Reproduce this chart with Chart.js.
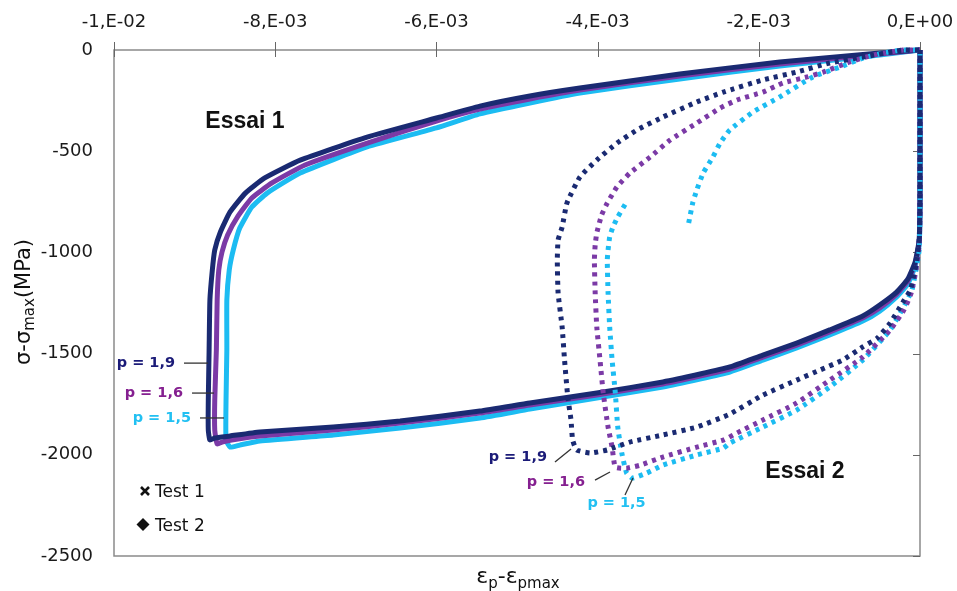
<!DOCTYPE html>
<html>
<head>
<meta charset="utf-8">
<script src="https://cdn.jsdelivr.net/npm/chart.js@4.4.1/dist/chart.umd.min.js"></script>
<style>
  html, body { margin: 0; padding: 0; background: #fff; }
  #wrap { width: 957px; height: 591px; }
</style>
</head>
<body>
<div id="wrap"><canvas id="chart" width="957" height="591"></canvas></div>
<script>
// Cyclic test: sigma - sigma_max vs eps_p - eps_pmax, two tests, three p values

// axis ticks
const xTickValues = [-0.01, -0.008, -0.006, -0.004, -0.002, 0];
const xTickLabels = ['-1,E-02', '-8,E-03', '-6,E-03', '-4,E-03', '-2,E-03', '0,E+00'];
const yTickValues = [0, -500, -1000, -1500, -2000, -2500];

// Essai 1 (Test 1, crosses) - full loop, p = 1,9
const e1_19_x = [0, 0, 0, 0, -0.00001, -0.00006, -0.00015, -0.00029, -0.00050, -0.00071, -0.00112, -0.00153, -0.00195, -0.00236, -0.00273, -0.00319, -0.00401, -0.00484, -0.00546, -0.00645, -0.00728, -0.00819, -0.00856, -0.00875, -0.00881, -0.00883, -0.00883, -0.00882, -0.00881, -0.00878, -0.00875, -0.00868, -0.00856, -0.00837, -0.00813, -0.00769, -0.00686, -0.00600, -0.00546, -0.00484, -0.00422, -0.00298, -0.00174, -0.00050, 0];
const e1_19_y = [0, -247, -494, -741, -939, -1047, -1131, -1196, -1260, -1314, -1383, -1448, -1507, -1566, -1601, -1640, -1695, -1744, -1784, -1833, -1863, -1887, -1907, -1917, -1927, -1878, -1729, -1482, -1235, -1087, -988, -899, -800, -707, -632, -544, -430, -336, -277, -227, -188, -119, -59, -15, 0];

// p = 1,6
const e1_16_x = [0, 0, 0, 0, -0.00001, -0.00006, -0.00015, -0.00029, -0.00050, -0.00071, -0.00112, -0.00153, -0.00195, -0.00236, -0.00273, -0.00319, -0.00401, -0.00484, -0.00546, -0.00645, -0.00728, -0.00819, -0.00854, -0.00866, -0.00872, -0.00875, -0.00875, -0.00873, -0.00872, -0.00870, -0.00866, -0.00859, -0.00846, -0.00829, -0.00804, -0.00763, -0.00682, -0.00600, -0.00546, -0.00484, -0.00422, -0.00298, -0.00174, -0.00050, 0];
const e1_16_y = [0, -247, -494, -741, -949, -1057, -1141, -1206, -1275, -1324, -1393, -1458, -1517, -1576, -1611, -1650, -1705, -1754, -1794, -1843, -1878, -1907, -1927, -1937, -1947, -1878, -1729, -1482, -1235, -1087, -998, -914, -820, -731, -657, -568, -455, -351, -292, -242, -198, -128, -69, -20, 0];

// p = 1,5
const e1_15_x = [0, 0, 0, 0, -0.00001, -0.00006, -0.00015, -0.00029, -0.00050, -0.00071, -0.00112, -0.00153, -0.00195, -0.00236, -0.00273, -0.00319, -0.00401, -0.00484, -0.00546, -0.00645, -0.00728, -0.00819, -0.00844, -0.00856, -0.00861, -0.00861, -0.00860, -0.00860, -0.00857, -0.00852, -0.00844, -0.00829, -0.00810, -0.00769, -0.00686, -0.00600, -0.00546, -0.00484, -0.00422, -0.00298, -0.00174, -0.00050, 0];
const e1_15_y = [0, -247, -494, -741, -963, -1067, -1156, -1220, -1290, -1339, -1408, -1472, -1532, -1591, -1626, -1665, -1719, -1774, -1818, -1868, -1902, -1932, -1952, -1962, -1927, -1729, -1482, -1235, -1087, -988, -880, -776, -707, -608, -479, -385, -316, -262, -213, -143, -79, -25, 0];

// Essai 2 (Test 2, diamonds), p = 1,9
const e2_19_x = [0, 0, 0, 0, -0.00001, -0.00005, -0.00012, -0.00021, -0.00037, -0.00053, -0.00071, -0.00096, -0.00124, -0.00153, -0.00195, -0.00236, -0.00277, -0.00319, -0.00360, -0.00388, -0.00409, -0.00426, -0.00431, -0.00433, -0.00437, -0.00441, -0.00444, -0.00449, -0.00450, -0.00449, -0.00444, -0.00438, -0.00422, -0.00401, -0.00376, -0.00351, -0.00319, -0.00277, -0.00244, -0.00195, -0.00153, -0.00112, -0.00071, -0.00021, 0];
const e2_19_y = [0, -247, -494, -741, -939, -1062, -1186, -1245, -1349, -1423, -1467, -1532, -1581, -1631, -1705, -1799, -1863, -1902, -1937, -1976, -1991, -1976, -1927, -1828, -1715, -1532, -1369, -1201, -1038, -939, -875, -756, -628, -544, -460, -395, -331, -257, -208, -148, -109, -64, -35, 0, 0];

// p = 1,6
const e2_16_x = [0, 0, 0, 0, -0.00001, -0.00005, -0.00011, -0.00020, -0.00037, -0.00071, -0.00112, -0.00153, -0.00195, -0.00227, -0.00244, -0.00277, -0.00319, -0.00347, -0.00364, -0.00378, -0.00382, -0.00387, -0.00393, -0.00397, -0.00401, -0.00403, -0.00404, -0.00403, -0.00401, -0.00395, -0.00388, -0.00376, -0.00360, -0.00335, -0.00310, -0.00277, -0.00248, -0.00227, -0.00195, -0.00170, -0.00140, -0.00120, -0.00087, -0.00058, -0.00021, 0];
const e2_16_y = [0, -247, -494, -741, -963, -1087, -1201, -1285, -1383, -1517, -1631, -1744, -1828, -1892, -1927, -1962, -2011, -2051, -2066, -2061, -1962, -1863, -1695, -1532, -1369, -1201, -1038, -963, -904, -815, -756, -677, -608, -529, -445, -361, -287, -247, -208, -163, -133, -109, -59, -25, 0, 0];

// p = 1,5 (starts inside the loop, ends at about -750)
const e2_15_x = [-0.00287, -0.00282, -0.00277, -0.00269, -0.00257, -0.00248, -0.00236, -0.00207, -0.00174, -0.00133, -0.00099, -0.00071, -0.00046, -0.00021, 0, 0, 0, 0, -0.00001, -0.00005, -0.00010, -0.00019, -0.00037, -0.00071, -0.00112, -0.00153, -0.00195, -0.00236, -0.00244, -0.00277, -0.00319, -0.00339, -0.00357, -0.00364, -0.00370, -0.00375, -0.00378, -0.00382, -0.00385, -0.00387, -0.00388, -0.00387, -0.00385, -0.00381, -0.00375, -0.00364];
const e2_15_y = [-855, -756, -692, -608, -529, -460, -395, -306, -232, -133, -84, -40, -15, 0, 0, -247, -494, -741, -988, -1087, -1186, -1260, -1383, -1532, -1665, -1779, -1863, -1942, -1967, -2001, -2051, -2090, -2115, -2090, -1991, -1863, -1695, -1532, -1369, -1201, -1038, -988, -924, -875, -825, -751];

// colours per p value
const NAVY = '#1a2a72';
const PURPLE = '#7b3aa6';
const CYAN = '#1cbcf2';

function pts(xs, ys) {
  return xs.map((x, i) => ({ x: x, y: ys[i] }));
}

function test1(data, color) {
  return { data: data, showLine: true, borderColor: color, borderWidth: 5, pointRadius: 0, clip: 8, tension: 0.15 };
}

function test2(data, color) {
  return { data: data, showLine: true, borderColor: color, borderWidth: 5, borderDash: [4, 5], pointRadius: 0, clip: 8, tension: 0.15 };
}

const FONT = 'DejaVu Sans';

// labels drawn on top of the plot (frame, titles, legend, annotations)
const decorPlugin = {
  id: 'decor',
  beforeDatasetsDraw(chart) {
    const ctx = chart.ctx;
    const a = chart.chartArea;
    const xs = chart.scales.x, ys = chart.scales.y;
    ctx.save();
    ctx.strokeStyle = '#8a8a8a';
    ctx.lineWidth = 1.5;
    ctx.strokeRect(a.left, a.top, a.right - a.left, a.bottom - a.top);
    ctx.strokeStyle = '#666';
    ctx.lineWidth = 1;
    // tick marks of top axis
    xTickValues.forEach(v => {
      const px = Math.round(xs.getPixelForValue(v)) + 0.5;
      ctx.beginPath();
      ctx.moveTo(px, a.top - 8);
      ctx.lineTo(px, a.top + 7);
      ctx.stroke();
    });
    // tick marks of the y axis at x = 0 (right side)
    yTickValues.forEach(v => {
      const py = Math.round(ys.getPixelForValue(v)) + 0.5;
      ctx.beginPath();
      ctx.moveTo(a.right - 7, py);
      ctx.lineTo(a.right, py);
      ctx.stroke();
    });
    ctx.restore();
  },
  afterDraw(chart) {
    const ctx = chart.ctx;
    const xs = chart.scales.x, ys = chart.scales.y;
    const X = v => xs.getPixelForValue(v);
    const Y = v => ys.getPixelForValue(v);
    ctx.save();
    ctx.fillStyle = '#111';
    ctx.textBaseline = 'alphabetic';

    // y title with subscript, rotated
    ctx.save();
    ctx.translate(30, 302);
    ctx.rotate(-Math.PI / 2);
    drawSub(ctx, [['σ-σ', 0], ['max', 1], ['(MPa)', 0]], 21, 15, 4);
    ctx.restore();

    // x title
    ctx.save();
    ctx.translate(518, 583);
    drawSub(ctx, [['ε', 0], ['p', 1], ['-ε', 0], ['pmax', 1]], 22, 15, 5);
    ctx.restore();

    // Essai labels
    ctx.font = 'bold 23px "Liberation Sans", Arial, sans-serif';
    ctx.textAlign = 'center';
    ctx.textBaseline = 'middle';
    ctx.fillText('Essai 1', X(-0.008375), Y(-356));
    ctx.fillText('Essai 2', X(-0.001427), Y(-2085));

    // p labels with leader lines
    const pLabels = [
      { t: 'p = 1,9', c: '#1b1b78', tx: -0.009243, ty: -1547, l: [-0.009132, -1547, -0.008834, -1547], al: 'right' },
      { t: 'p = 1,6', c: '#852090', tx: -0.009144, ty: -1695, l: [-0.009032, -1695, -0.008759, -1695], al: 'right' },
      { t: 'p = 1,5', c: '#22c0f2', tx: -0.009045, ty: -1818, l: [-0.008933, -1818, -0.008635, -1818], al: 'right' },
      { t: 'p = 1,9', c: '#1b1b78', tx: -0.004628, ty: -2011, l: [-0.004529, -2036, -0.004330, -1971], al: 'right' },
      { t: 'p = 1,6', c: '#852090', tx: -0.004156, ty: -2135, l: [-0.004032, -2125, -0.003846, -2085], al: 'right' },
      { t: 'p = 1,5', c: '#22c0f2', tx: -0.003765, ty: -2238, l: [-0.003660, -2199, -0.003561, -2115], al: 'center' }
    ];
    ctx.font = 'bold 14.5px "DejaVu Sans", sans-serif';
    pLabels.forEach(p => {
      ctx.fillStyle = p.c;
      ctx.textAlign = p.al;
      ctx.fillText(p.t, X(p.tx), Y(p.ty));
      ctx.strokeStyle = '#333';
      ctx.lineWidth = 1.3;
      ctx.beginPath();
      ctx.moveTo(X(p.l[0]), Y(p.l[1]));
      ctx.lineTo(X(p.l[2]), Y(p.l[3]));
      ctx.stroke();
    });

    // legend (Test 1 = crosses, Test 2 = diamonds)
    ctx.fillStyle = '#111';
    ctx.strokeStyle = '#111';
    ctx.lineWidth = 2.6;
    ctx.beginPath();
    ctx.moveTo(141, 487); ctx.lineTo(149, 495);
    ctx.moveTo(149, 487); ctx.lineTo(141, 495);
    ctx.stroke();
    ctx.beginPath();
    ctx.moveTo(143, 518); ctx.lineTo(149.5, 524.5); ctx.lineTo(143, 531); ctx.lineTo(136.5, 524.5);
    ctx.closePath();
    ctx.fill();
    ctx.font = '17px "DejaVu Sans", sans-serif';
    ctx.textAlign = 'left';
    ctx.textBaseline = 'middle';
    ctx.fillText('Test 1', 155, 493);
    ctx.fillText('Test 2', 155, 527);
    ctx.restore();
  }
};

// draws a run of text parts, part[1] = 1 means subscript, centred on 0
function drawSub(ctx, parts, size, subSize, drop) {
  const fonts = [size + 'px "' + FONT + '"', subSize + 'px "' + FONT + '"'];
  let total = 0;
  parts.forEach(p => { ctx.font = fonts[p[1]]; total += ctx.measureText(p[0]).width; });
  let x = -total / 2;
  ctx.textAlign = 'left';
  ctx.textBaseline = 'alphabetic';
  parts.forEach(p => {
    ctx.font = fonts[p[1]];
    ctx.fillText(p[0], x, p[1] ? drop : 0);
    x += ctx.measureText(p[0]).width;
  });
}

const chart = new Chart(document.getElementById('chart'), {
  type: 'scatter',
  data: {
    datasets: [
      test2(pts(e2_19_x, e2_19_y), NAVY),
      test2(pts(e2_16_x, e2_16_y), PURPLE),
      test2(pts(e2_15_x, e2_15_y), CYAN),
      test1(pts(e1_19_x, e1_19_y), NAVY),
      test1(pts(e1_16_x, e1_16_y), PURPLE),
      test1(pts(e1_15_x, e1_15_y), CYAN)
    ]
  },
  options: {
    responsive: false,
    animation: false,
    devicePixelRatio: 1,
    layout: { padding: { left: 0, right: 37, top: 0, bottom: 35 } },
    plugins: { legend: { display: false }, tooltip: { enabled: false } },
    scales: {
      x: {
        type: 'linear',
        position: 'top',
        min: -0.01,
        max: 0,
        afterBuildTicks: s => { s.ticks = xTickValues.map(v => ({ value: v })); },
        // fixed axis band, no extra room for the end labels
        afterFit: s => { s.height = 50; s.paddingLeft = 0; s.paddingRight = 0; },
        grid: { display: false, drawTicks: false },
        border: { display: false },
        ticks: {
          padding: 17,
          maxRotation: 0,
          color: '#1a1a1a',
          font: { family: FONT, size: 18 },
          callback: (v, i) => xTickLabels[i]
        }
      },
      y: {
        type: 'linear',
        position: 'left',
        min: -2500,
        max: 0,
        afterBuildTicks: s => { s.ticks = yTickValues.map(v => ({ value: v })); },
        afterFit: s => { s.width = 114; s.paddingTop = 0; s.paddingBottom = 0; },
        grid: { display: false, drawTicks: false },
        border: { display: false },
        ticks: {
          padding: 21,
          color: '#1a1a1a',
          font: { family: FONT, size: 18 },
          callback: v => String(v)
        }
      }
    }
  },
  plugins: [decorPlugin]
});
</script>
</body>
</html>
